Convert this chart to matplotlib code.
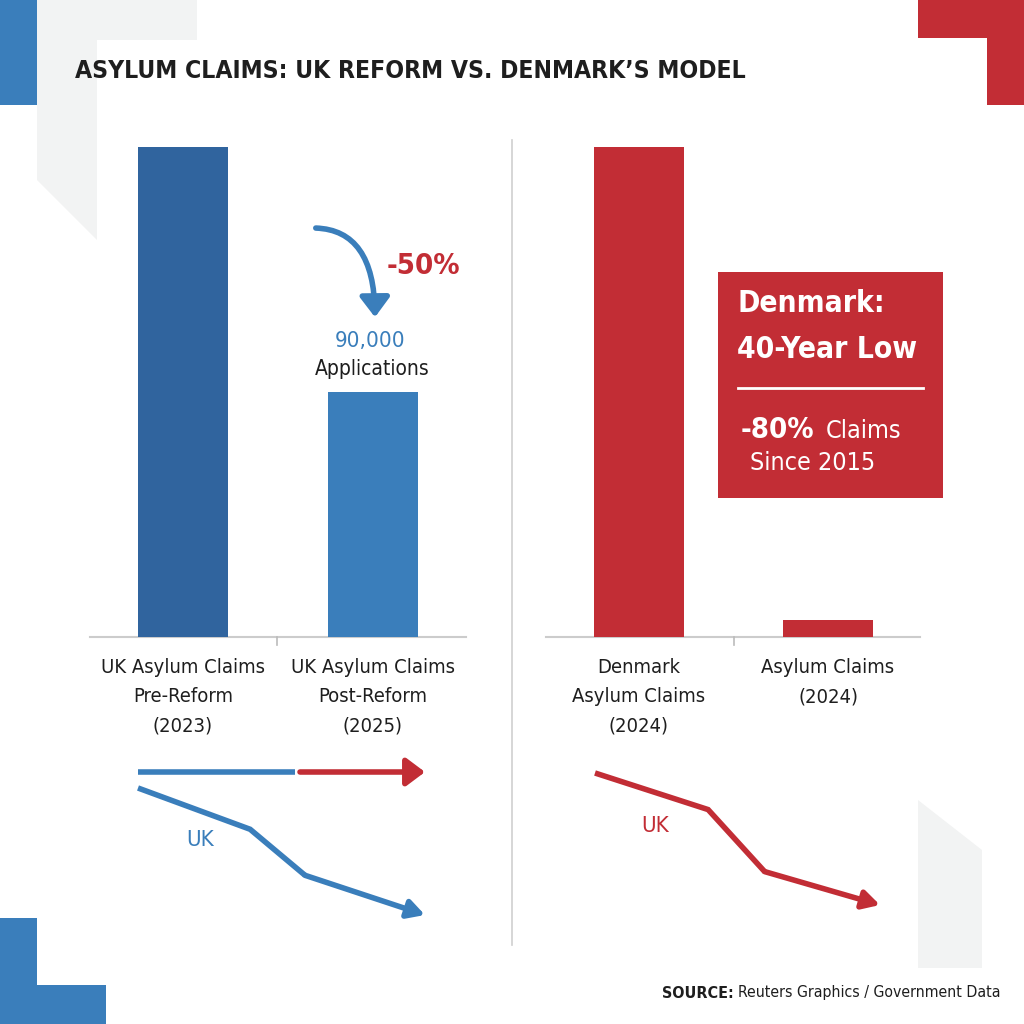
import numpy as np
import matplotlib as mpl
mpl.use('Agg')
import matplotlib.pyplot as plt
from matplotlib.patches import Polygon, Rectangle, FancyArrowPatch

# data
uk_labels = ['UK Asylum Claims\nPre-Reform\n(2023)', 'UK Asylum Claims\nPost-Reform\n(2025)']
uk_values = [180000, 90000]
dk_labels = ['Denmark\nAsylum Claims\n(2024)', 'Asylum Claims\n(2024)\n']
dk_values = [100, 3.5]   # index, first bar = 100

uk_trend_x = [0, 1, 1.49, 2.56]
uk_trend_y = [100, 74, 45, 20]
dk_trend_x = [0, 1, 1.5, 2.52]
dk_trend_y = [100, 77, 38, 17]

BLUE_DARK = '#30649e'
BLUE = '#3a7ebb'
RED = '#c22d35'
GREY = '#f2f3f3'
TXT = '#1e1e1e'

plt.rcParams['font.family'] = ['DejaVu Sans']
FS = 'condensed'

fig = plt.figure(figsize=(10.24, 10.24), dpi=100)
fig.patch.set_facecolor('white')

# background axes in pixel units
bg = fig.add_axes([0, 0, 1, 1], zorder=0)
bg.set_xlim(0, 1024)
bg.set_ylim(1024, 0)
bg.axis('off')

# decorative corners
bg.add_patch(Polygon([(37, 0), (197, 0), (197, 40), (97, 40), (97, 240), (37, 180)],
                     closed=True, color=GREY, lw=0))
bg.add_patch(Polygon([(918, 800), (982, 850), (982, 968), (918, 968)], closed=True, color=GREY, lw=0))
bg.add_patch(Rectangle((0, 0), 37, 105, color=BLUE, lw=0))
bg.add_patch(Polygon([(918, 0), (1024, 0), (1024, 105), (987, 105), (987, 38), (918, 38)],
                     closed=True, color=RED, lw=0))
bg.add_patch(Polygon([(0, 918), (37, 918), (37, 985), (106, 985), (106, 1024), (0, 1024)],
                     closed=True, color=BLUE, lw=0))

# title
bg.text(75, 71, 'ASYLUM CLAIMS: UK REFORM VS. DENMARK\u2019S MODEL', fontsize=17.7, fontweight='bold',
        fontstretch=FS, color=TXT, ha='left', va='center')

# divider
bg.plot([512, 512], [140, 945], color='#cfcfcf', lw=1.2)

# axis lines with centre ticks
for x0, x1, xm in [(90, 466, 277), (546, 920, 734)]:
    bg.plot([x0, x1], [637, 637], color='#cccccc', lw=1.5)
    bg.plot([xm, xm], [637, 645], color='#bbbbbb', lw=1.2)


def bar_axes(left_px, right_px, center0, center1, top_val):
    ax = fig.add_axes([left_px / 1024, (1024 - 637) / 1024, (right_px - left_px) / 1024, (637 - 147) / 1024],
                      zorder=2)
    unit = center1 - center0
    ax.set_xlim((left_px - center0) / unit, (right_px - center0) / unit)
    ax.set_ylim(0, top_val)
    ax.patch.set_alpha(0)
    ax.axis('off')
    return ax, 90 / unit


ax1, w1 = bar_axes(90, 466, 183, 373, uk_values[0])
ax1.bar([0, 1], uk_values, width=w1, color=[BLUE_DARK, BLUE])
ax2, w2 = bar_axes(546, 920, 639, 828, dk_values[0])
ax2.bar([0, 1], dk_values, width=w2, color=[RED, RED])

# category labels
for ax, labels in [(ax1, uk_labels), (ax2, dk_labels)]:
    for i, lab in enumerate(labels):
        ax.text(i, -0.043, lab, transform=ax.get_xaxis_transform(), ha='center', va='top',
                fontsize=14.5, fontstretch=FS, color=TXT, linespacing=1.68)

# curved arrow and annotations for the UK bars
bg.add_patch(FancyArrowPatch((313, 228), (375, 320), connectionstyle='angle3,angleA=0,angleB=90',
                             arrowstyle='-|>,head_length=8,head_width=6', color=BLUE, lw=4,
                             mutation_scale=1.5))
bg.text(423, 266, '-50%', fontsize=21, fontweight='bold', fontstretch=FS, color=RED, ha='center', va='center')
bg.text(370, 341, '{:,}'.format(uk_values[1]), fontsize=16, fontstretch=FS, color=BLUE, ha='center', va='center')
bg.text(372, 369, 'Applications', fontsize=15, fontstretch=FS, color=TXT, ha='center', va='center')

# Denmark box
bg.add_patch(Rectangle((718, 272), 225, 226, color=RED, lw=0, zorder=3))
bg.text(737, 303, 'Denmark:', fontsize=21.5, fontweight='bold', fontstretch=FS, color='white',
        ha='left', va='center', zorder=4)
bg.text(737, 350, '40-Year Low', fontsize=21.5, fontweight='bold', fontstretch=FS, color='white',
        ha='left', va='center', zorder=4)
bg.plot([738, 923], [388, 388], color='white', lw=2, zorder=4)
bg.text(741, 430, '-80%', fontsize=21, fontweight='bold', fontstretch=FS, color='white',
        ha='left', va='center', zorder=4)
bg.text(826, 431, 'Claims', fontsize=18, fontstretch=FS, color='white', ha='left', va='center', zorder=4)
bg.text(750, 463, 'Since 2015', fontsize=18, fontstretch=FS, color='white', ha='left', va='center', zorder=4)

# horizontal split arrow under UK bars
bg.plot([138, 295], [772, 772], color=BLUE, lw=4, solid_capstyle='butt')
bg.add_patch(FancyArrowPatch((300, 772), (425, 772), arrowstyle='-|>,head_length=8,head_width=6',
                             color=RED, lw=4, mutation_scale=1.4, shrinkA=0, shrinkB=0))


def trend_axes(left_px, right_px, top_px, bottom_px, xs, ys, color):
    ax = fig.add_axes([left_px / 1024, (1024 - bottom_px) / 1024, (right_px - left_px) / 1024,
                       (bottom_px - top_px) / 1024], zorder=2)
    ax.set_xlim(xs[0], xs[-1])
    ax.set_ylim(ys[-1], ys[0])
    ax.patch.set_alpha(0)
    ax.axis('off')
    ax.plot(xs[:-1], ys[:-1], color=color, lw=4, solid_joinstyle='miter', solid_capstyle='butt', clip_on=False)
    ax.annotate('', xy=(xs[-1], ys[-1]), xytext=(xs[-2], ys[-2]),
                arrowprops=dict(arrowstyle='-|>,head_length=1.0,head_width=0.55', color=color, lw=4,
                                shrinkA=0, shrinkB=0), annotation_clip=False)
    return ax


trend_axes(138, 425, 788, 915, uk_trend_x, uk_trend_y, BLUE)
trend_axes(595, 880, 773, 905, dk_trend_x, dk_trend_y, RED)
bg.text(200, 840, 'UK', fontsize=16, fontstretch=FS, color=BLUE, ha='center', va='center')
bg.text(655, 826, 'UK', fontsize=16, fontstretch=FS, color=RED, ha='center', va='center')

# source
bg.text(734, 993, 'SOURCE:', fontsize=11.5, fontweight='bold', fontstretch=FS, color=TXT,
        ha='right', va='center')
bg.text(738, 993, 'Reuters Graphics / Government Data', fontsize=11.3, fontstretch=FS, color=TXT,
        ha='left', va='center')

fig.savefig('out.png', dpi=100)
